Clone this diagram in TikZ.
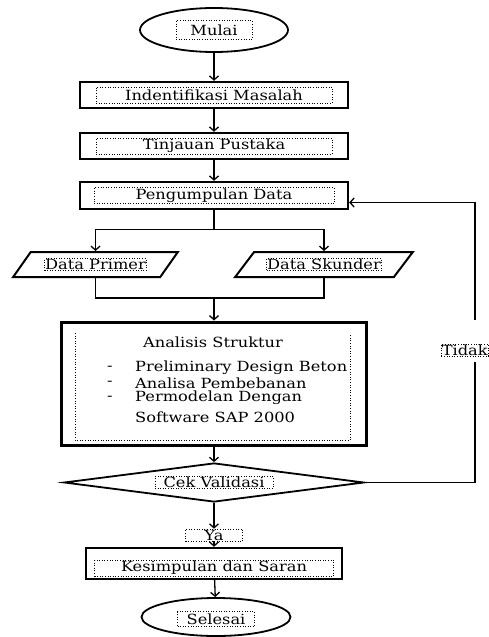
\documentclass[tikz,border=0pt]{standalone}
\usepackage{fontspec}
\setmainfont[FakeStretch=1.16]{DejaVu Serif}
\usetikzlibrary{arrows.meta,shapes.geometric,calc}

\begin{document}
\begin{tikzpicture}[>={Straight Barb[length=4pt,width=9pt]}, x=1pt, y=-1pt,
    font=\fontsize{14}{16}\selectfont,
    box/.style={draw, line width=2.4pt, minimum width=268pt, minimum height=26pt, inner sep=0pt},
    frm/.style={draw, dotted, line width=0.6pt, inner sep=1pt},
    term/.style={draw, ellipse, line width=1.8pt, minimum width=148pt, minimum height=44pt, inner sep=0pt},
    io/.style={draw, trapezium, trapezium left angle=68, trapezium right angle=112,
        trapezium stretches=true, line width=2pt, minimum height=25pt, inner sep=2pt},
    line/.style={line width=1.3pt}]
    \useasboundingbox (0,0) rectangle (489,637);

    % 开始
    \node[term] (mulai) at (214,30) {};
    \node[frm, minimum width=76pt, minimum height=19pt] (mulai-t) at (mulai) {Mulai};

    % 主流程方框
    \node[box] (idm) at (214,95) {};
    \node[frm, minimum width=236pt, minimum height=16pt] (idm-t) at (idm) {Indentifikasi Masalah};
    \node[box] (tp) at (214,146) {};
    \node[frm, minimum width=236pt, minimum height=15pt] (tp-t) at (tp) {Tinjauan Pustaka};
    \node[box, minimum height=27pt] (pd) at (214,195.5) {};
    \node[frm, minimum width=240pt, minimum height=16pt] (pd-t) at (pd) {Pengumpulan Data};

    % 数据 (平行四边形)
    \node[io, minimum width=165pt] (dp) at (95.5,264.5) {\phantom{Data}};
    \node[frm, inner sep=0.5pt] (dp-t) at (dp) {Data Primer};
    \node[io, minimum width=178pt] (dsk) at (324,264.5) {\phantom{Data}};
    \node[frm, inner sep=0.5pt] (dsk-t) at (dsk) {Data Skunder};

    % 分析方框
    \node[draw, line width=3pt, minimum width=305pt, minimum height=123pt, inner sep=0pt] (as) at (214,383.5) {};
    \draw[dotted, line width=0.6pt] (75,333) -- (75,440) -- (350,440) -- (350,335);
    \node (as-t) at (213,342) {Analisis Struktur};
    \foreach \y/\t [count=\i] in {368/Preliminary Design Beton, 383/Analisa Pembebanan, 398/Permodelan Dengan} {
        \node[anchor=west, inner sep=0pt] (dash-\i) at (107,\y) {-};
        \node[anchor=west, inner sep=0pt] (item-\i) at (135,\y) {\t};
    }
    \node[anchor=west, inner sep=0pt] (item-4) at (135,417) {Software SAP 2000};

    % 判断
    \node[draw, diamond, line width=1.8pt, minimum width=300pt, minimum height=39pt, inner sep=0pt] (cv) at (214,482.5) {};
    \node[frm, minimum width=118pt, inner sep=0.5pt] (cv-t) at (cv) {Cek Validasi};
    \node[frm, minimum width=57pt, minimum height=12pt, inner sep=0pt] (ya) at (214,535) {Ya};
    \node[frm, inner sep=0.5pt, anchor=west] (tdk) at (441,350) {Tidak};

    % 结束
    \node[box, minimum width=256pt, minimum height=31pt] (ks) at (214,563.5) {};
    \node[frm, minimum width=239pt, minimum height=16pt] (ks-t) at (214,568) {Kesimpulan dan Saran};
    \node[term, minimum width=149pt, minimum height=38pt] (sls) at (216,617) {};
    \node[frm, minimum width=77pt, minimum height=15pt] (sls-t) at (216,619) {Selesai};

    % 连线
    \draw[line,->] (mulai) -- (idm);
    \draw[line,->] (idm) -- (tp);
    \draw[line,->] (tp) -- (pd);
    \draw[line] (pd.south) -- ++(0,19) coordinate (split);
    \draw[line,->] (split) -| (dp.north);
    \draw[line,->] (split) -| (dsk.north);
    \coordinate (join) at (214,298);
    \draw[line] (dp.south) |- (join) -| (dsk.south);
    \draw[line,->] (join) -- (as);
    \draw[line,->] (as) -- (cv);
    \draw[line,->] (cv) -- (ya);
    \draw[line,->] (ya) -- (ks);
    \draw[line,->] (ks) -- (sls);

    % 反馈 (Tidak)
    \coordinate (rb) at (475,362);
    \coordinate (rt) at (475,320);
    \draw[line] (cv.east) -| (rb);
    \draw[line,->] (rt) |- ([yshift=-7pt]pd.east);
\end{tikzpicture}
\end{document}
